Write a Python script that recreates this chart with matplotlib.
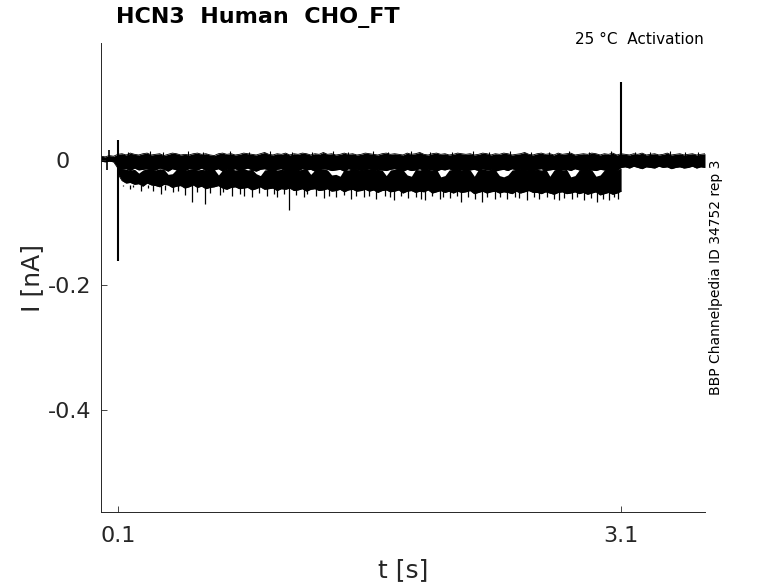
import numpy as np
import matplotlib
matplotlib.use("Agg")
import matplotlib.pyplot as plt

# ---------------- data ----------------
# Baseline band (all sweeps near 0 nA): envelope sampled every 0.025 s from 0 to 3.6 s
band_t0, band_dt = 0.0, 0.025
band_hi = [
    0.006, 0.005, 0.007, 0.006, 0.009, 0.010, 0.008, 0.011, 0.009, 0.008,
    0.010, 0.011, 0.008, 0.009, 0.010, 0.007, 0.009, 0.011, 0.010, 0.008,
    0.009, 0.008, 0.010, 0.011, 0.009, 0.010, 0.008, 0.007, 0.010, 0.011,
    0.009, 0.010, 0.008, 0.009, 0.011, 0.010, 0.009, 0.008, 0.010, 0.012,
    0.009, 0.008, 0.010, 0.009, 0.011, 0.008, 0.010, 0.009, 0.011, 0.010,
    0.008, 0.010, 0.009, 0.012, 0.009, 0.010, 0.008, 0.009, 0.011, 0.009,
    0.010, 0.008, 0.009, 0.011, 0.010, 0.009, 0.008, 0.010, 0.011, 0.009,
    0.010, 0.009, 0.008, 0.011, 0.009, 0.010, 0.012, 0.009, 0.008, 0.010,
    0.011, 0.009, 0.010, 0.008, 0.009, 0.011, 0.010, 0.009, 0.010, 0.008,
    0.009, 0.011, 0.010, 0.008, 0.010, 0.009, 0.011, 0.010, 0.008, 0.009,
    0.010, 0.012, 0.009, 0.008, 0.010, 0.011, 0.009, 0.010, 0.008, 0.011,
    0.009, 0.010, 0.011, 0.008, 0.009, 0.010, 0.009, 0.011, 0.010, 0.008,
    0.010, 0.009, 0.011, 0.008, 0.010, 0.009, 0.008, 0.010, 0.009, 0.011,
    0.008, 0.009, 0.010, 0.008, 0.009, 0.011, 0.008, 0.009, 0.010, 0.008,
    0.009, 0.010, 0.008, 0.009, 0.010,
]
band_lo = [
    -0.002, -0.003, -0.002, -0.003, -0.013, -0.015, -0.014, -0.017, -0.013, -0.016,
    -0.015, -0.014, -0.017, -0.016, -0.013, -0.015, -0.018, -0.014, -0.016, -0.015,
    -0.017, -0.014, -0.015, -0.016, -0.013, -0.017, -0.015, -0.016, -0.014, -0.018,
    -0.015, -0.016, -0.014, -0.017, -0.015, -0.013, -0.016, -0.018, -0.015, -0.014,
    -0.016, -0.017, -0.015, -0.014, -0.018, -0.016, -0.015, -0.017, -0.014, -0.016,
    -0.015, -0.018, -0.016, -0.014, -0.015, -0.017, -0.016, -0.015, -0.018, -0.014,
    -0.016, -0.015, -0.017, -0.016, -0.014, -0.018, -0.015, -0.016, -0.017, -0.015,
    -0.014, -0.016, -0.018, -0.015, -0.017, -0.016, -0.014, -0.017, -0.015, -0.016,
    -0.018, -0.015, -0.016, -0.014, -0.017, -0.015, -0.016, -0.018, -0.016, -0.015,
    -0.017, -0.014, -0.016, -0.015, -0.018, -0.016, -0.015, -0.017, -0.014, -0.016,
    -0.015, -0.017, -0.016, -0.018, -0.015, -0.014, -0.017, -0.016, -0.015, -0.018,
    -0.016, -0.015, -0.017, -0.014, -0.016, -0.018, -0.015, -0.016, -0.017, -0.015,
    -0.016, -0.018, -0.015, -0.017, -0.012, -0.011, -0.013, -0.010, -0.012, -0.014,
    -0.011, -0.012, -0.013, -0.010, -0.012, -0.011, -0.014, -0.012, -0.011, -0.013,
    -0.012, -0.010, -0.013, -0.011, -0.012,
]

# Activated sweeps (inward current during the step): envelope every 0.025 s from 0.1 to 3.1 s
act_t0, act_dt = 0.1, 0.025
act_hi = [
    -0.012, -0.014, -0.015, -0.016, -0.015, -0.021, -0.016, -0.014, -0.015, -0.016,
    -0.014, -0.015, -0.023, -0.022, -0.015, -0.014, -0.016, -0.015, -0.014, -0.016,
    -0.015, -0.016, -0.014, -0.015, -0.024, -0.016, -0.015, -0.014, -0.016, -0.015,
    -0.014, -0.016, -0.015, -0.022, -0.025, -0.016, -0.015, -0.014, -0.016, -0.015,
    -0.016, -0.015, -0.014, -0.016, -0.015, -0.014, -0.023, -0.016, -0.015, -0.014,
    -0.016, -0.024, -0.023, -0.026, -0.015, -0.016, -0.014, -0.015, -0.016, -0.015,
    -0.014, -0.016, -0.015, -0.016, -0.025, -0.016, -0.015, -0.014, -0.016, -0.024,
    -0.026, -0.015, -0.016, -0.014, -0.015, -0.016, -0.015, -0.027, -0.025, -0.016,
    -0.015, -0.014, -0.016, -0.015, -0.016, -0.026, -0.015, -0.014, -0.016, -0.015,
    -0.016, -0.025, -0.027, -0.024, -0.016, -0.015, -0.014, -0.016, -0.015, -0.016,
    -0.015, -0.016, -0.014, -0.026, -0.016, -0.015, -0.016, -0.015, -0.027, -0.025,
    -0.016, -0.015, -0.014, -0.016, -0.026, -0.024, -0.016, -0.015, -0.014, -0.016,
    -0.013,
]
act_lo = [
    -0.022, -0.033, -0.037, -0.036, -0.039, -0.038, -0.042, -0.037, -0.040, -0.041,
    -0.043, -0.039, -0.040, -0.044, -0.042, -0.041, -0.045, -0.043, -0.040, -0.044,
    -0.042, -0.046, -0.044, -0.043, -0.041, -0.045, -0.047, -0.044, -0.043, -0.046,
    -0.045, -0.044, -0.048, -0.046, -0.043, -0.047, -0.046, -0.045, -0.049, -0.046,
    -0.047, -0.045, -0.049, -0.048, -0.046, -0.050, -0.047, -0.046, -0.049, -0.048,
    -0.046, -0.050, -0.049, -0.047, -0.051, -0.048, -0.047, -0.050, -0.049, -0.047,
    -0.050, -0.048, -0.052, -0.049, -0.048, -0.051, -0.050, -0.048, -0.053, -0.050,
    -0.049, -0.052, -0.050, -0.051, -0.048, -0.053, -0.051, -0.049, -0.052, -0.050,
    -0.053, -0.050, -0.052, -0.051, -0.049, -0.054, -0.052, -0.050, -0.053, -0.051,
    -0.050, -0.053, -0.051, -0.052, -0.054, -0.050, -0.053, -0.051, -0.049, -0.052,
    -0.052, -0.054, -0.051, -0.053, -0.055, -0.052, -0.051, -0.054, -0.053, -0.051,
    -0.054, -0.052, -0.055, -0.053, -0.051, -0.056, -0.054, -0.052, -0.055, -0.053,
    -0.050,
]

# Downward noise needles of the activated sweeps (time [s], tip [nA])
spike_t = [0.13, 0.17, 0.19, 0.24, 0.28, 0.31, 0.36, 0.38, 0.43, 0.46,
           0.50, 0.544, 0.57, 0.622, 0.65, 0.71, 0.73, 0.78, 0.83, 0.85,
           0.90, 0.94, 0.99, 1.03, 1.05, 1.09, 1.123, 1.16, 1.21, 1.23,
           1.28, 1.33, 1.36, 1.40, 1.45, 1.49, 1.52, 1.57, 1.60, 1.64,
           1.69, 1.72, 1.749, 1.79, 1.83, 1.88, 1.91, 1.932, 1.97, 2.02,
           2.04, 2.08, 2.12, 2.147, 2.19, 2.23, 2.273, 2.30, 2.35, 2.38,
           2.42, 2.47, 2.49, 2.54, 2.58, 2.61, 2.66, 2.70, 2.732, 2.76,
           2.81, 2.84, 2.88, 2.92, 2.959, 2.99, 3.03, 3.06, 3.08]
spike_v = [-0.042, -0.046, -0.044, -0.049, -0.045, -0.050, -0.054, -0.048, -0.052, -0.050,
           -0.056, -0.067, -0.052, -0.070, -0.053, -0.056, -0.051, -0.058, -0.054, -0.057,
           -0.060, -0.053, -0.058, -0.055, -0.059, -0.054, -0.080, -0.056, -0.060, -0.055,
           -0.058, -0.061, -0.057, -0.060, -0.056, -0.062, -0.057, -0.060, -0.058, -0.062,
           -0.057, -0.060, -0.064, -0.058, -0.061, -0.059, -0.062, -0.064, -0.058, -0.062,
           -0.059, -0.061, -0.058, -0.067, -0.060, -0.063, -0.067, -0.059, -0.062, -0.060,
           -0.063, -0.059, -0.061, -0.064, -0.060, -0.062, -0.060, -0.063, -0.064, -0.061,
           -0.063, -0.060, -0.064, -0.061, -0.067, -0.062, -0.064, -0.060, -0.062]

# Upward noise needles on the top of the baseline band
up_t = [0.16, 0.29, 0.37, 0.52, 0.61, 0.77, 0.88, 1.01, 1.14, 1.26,
        1.38, 1.47, 1.62, 1.71, 1.85, 1.96, 2.09, 2.22, 2.31, 2.44,
        2.56, 2.67, 2.79, 2.91, 3.04, 3.18, 3.27, 3.39, 3.48, 3.56]
up_v = [0.013, 0.014, 0.012, 0.014, 0.013, 0.015, 0.012, 0.014, 0.013, 0.012,
        0.014, 0.013, 0.015, 0.012, 0.014, 0.013, 0.012, 0.015, 0.013, 0.014,
        0.012, 0.013, 0.015, 0.012, 0.014, 0.013, 0.012, 0.014, 0.013, 0.012]

# Small pre-step glitches
glitch_t = [0.037, 0.049]
glitch_v = [-0.016, 0.016]

# Capacitive transients at step on/off (time, min, max)
trans_t = [0.1, 3.1]
trans_min = [-0.162, -0.010]
trans_max = [0.032, 0.125]

x_ticks = [0.1, 3.1]
x_ticklabels = ["0.1", "3.1"]
y_ticks = [-0.4, -0.2, 0.0]
y_ticklabels = ["-0.4", "-0.2", "0"]

# ---------------- figure ----------------
W, H = 778, 583
fig = plt.figure(figsize=(W / 100, H / 100), dpi=100)
ax = fig.add_axes([101 / W, 1 - 512 / H, (705 - 101) / W, (512 - 43) / H])

band_t = band_t0 + band_dt * np.arange(len(band_hi))
act_t = act_t0 + act_dt * np.arange(len(act_hi))

ax.fill_between(band_t, band_lo, band_hi, color="black", lw=0)
ax.fill_between(act_t, act_lo, act_hi, color="black", lw=0)
for yy, tt in [(band_hi, band_t), (band_lo, band_t), (act_lo, act_t)]:
    ax.plot(tt, yy, color="black", lw=0.6, solid_joinstyle="miter")

ax.vlines(spike_t, -0.040, spike_v, color="black", lw=0.9)
ax.vlines(up_t, 0.006, up_v, color="black", lw=0.8)
ax.vlines(glitch_t, 0.0, glitch_v, color="black", lw=1.2)
ax.vlines(trans_t, trans_min, trans_max, color="black", lw=1.5)

ax.set_xlim(0.0, 3.6)
ax.set_ylim(-0.5634, 0.1872)

axc = "#262626"
for s in ["top", "right"]:
    ax.spines[s].set_visible(False)
for s in ["left", "bottom"]:
    ax.spines[s].set_color(axc)
    ax.spines[s].set_linewidth(0.7)

ax.set_xticks(x_ticks)
ax.set_xticklabels(x_ticklabels)
ax.set_yticks(y_ticks)
# MATLAB leaves the "0" label offset to the left of the other labels
ax.set_yticklabels([lab + ("   " if lab == "0" else "") for lab in y_ticklabels])
ax.tick_params(direction="in", length=4.3, width=0.6, color=axc,
               labelcolor=axc, labelsize=16)
ax.tick_params(axis="x", pad=10)
ax.tick_params(axis="y", pad=7)

ax.set_xlabel("t [s]", fontsize=18, color=axc, labelpad=9)
ax.set_ylabel("I [nA]", fontsize=18, color=axc, labelpad=3)

fig.text(116 / W, 1 - 18 / H, "HCN3  Human  CHO_FT", fontsize=16,
         fontweight="bold", ha="left", va="center", color="black")
fig.text(704 / W, 1 - 40 / H, "25 °C  Activation", fontsize=11,
         ha="right", va="center", color="black")
fig.text(716 / W, 1 - 277 / H, "BBP Channelpedia ID 34752 rep 3", fontsize=10,
         rotation=90, ha="center", va="center", color="black")

fig.savefig("out.png", dpi=100)
